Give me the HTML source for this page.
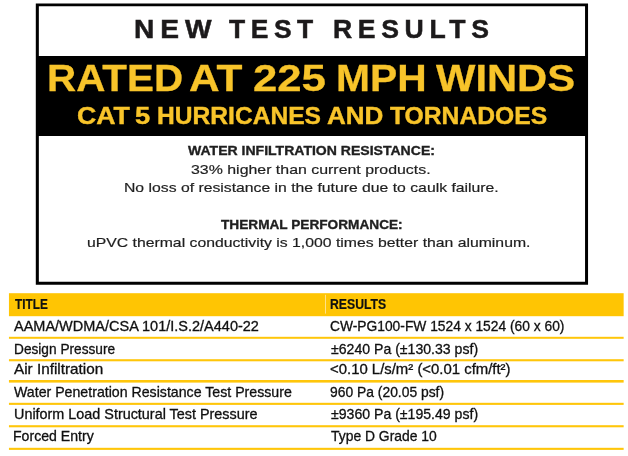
<!DOCTYPE html>
<html lang="en"><head><meta charset="utf-8"><title>New Test Results</title>
<style>
html,body{margin:0;padding:0}
body{width:628px;height:456px;background:#fff;position:relative;overflow:hidden;font-family:"Liberation Sans",sans-serif}
.a{position:absolute}
.t{position:absolute;white-space:nowrap;transform-origin:0 0;margin:0}
.bg{left:0;top:0;display:block}
</style></head>
<body>
<svg class="a bg" width="628" height="456" viewBox="0 0 628 456"><path fill="#000" fill-rule="evenodd" d="M35.8 3.5H588.05V284.8H35.8Z M38.85 6.15H585.05V281.8H38.85Z"/><rect x="36" y="56" width="552" height="80" fill="#000"/><rect x="8.95" y="293.2" width="614.7" height="23.0" fill="#ffc503"/><rect x="325.1" y="294.8" width="0.9" height="18.8" fill="#ffe699"/><rect x="8.95" y="336.8" width="614.7" height="2.0" fill="#ffc60a"/><rect x="8.95" y="359.2" width="614.7" height="2.1" fill="#ffc60a"/><rect x="8.95" y="380.0" width="614.7" height="2.6" fill="#ffc60a"/><rect x="8.95" y="402.8" width="614.7" height="2.1" fill="#ffc60a"/><rect x="8.95" y="425.2" width="614.7" height="2.1" fill="#ffc60a"/><rect x="8.95" y="447.8" width="614.7" height="2.1" fill="#ffc60a"/></svg>
<header>
<div class="t" id="h1a" style="left:134.40px;top:16px;font-size:26px;line-height:26px;font-weight:700;color:#1c1a1b;letter-spacing:5.5px;-webkit-text-stroke:0.5px #1c1a1b;transform:scaleX(1.0816);">NEW</div>
<div class="t" id="h1b" style="left:229.20px;top:16px;font-size:26px;line-height:26px;font-weight:700;color:#1c1a1b;letter-spacing:5.5px;-webkit-text-stroke:0.5px #1c1a1b;transform:scaleX(1.0152);">TEST</div>
<div class="t" id="h1c" style="left:332.74px;top:16px;font-size:26px;line-height:26px;font-weight:700;color:#1c1a1b;letter-spacing:5.5px;-webkit-text-stroke:0.5px #1c1a1b;transform:scaleX(1.0229);">RESULTS</div>
</header>
<section>
<div class="t" id="h2a" style="left:46.97px;top:60px;font-size:37.5px;line-height:37.5px;font-weight:700;color:#f8c42a;-webkit-text-stroke:0.3px #f8c42a;transform:scaleX(1.0767);">RATED</div>
<div class="t" id="h2b" style="left:189.41px;top:60px;font-size:37.5px;line-height:37.5px;font-weight:700;color:#f8c42a;-webkit-text-stroke:0.3px #f8c42a;transform:scaleX(1.1304);">AT</div>
<div class="t" id="h2c" style="left:253.38px;top:60px;font-size:37.5px;line-height:37.5px;font-weight:700;color:#f8c42a;-webkit-text-stroke:0.3px #f8c42a;transform:scaleX(1.1655);">225</div>
<div class="t" id="h2d" style="left:336.10px;top:60px;font-size:37.5px;line-height:37.5px;font-weight:700;color:#f8c42a;-webkit-text-stroke:0.3px #f8c42a;transform:scaleX(1.0874);">MPH</div>
<div class="t" id="h2e" style="left:436.14px;top:60px;font-size:37.5px;line-height:37.5px;font-weight:700;color:#f8c42a;-webkit-text-stroke:0.3px #f8c42a;transform:scaleX(1.1128);">WINDS</div>
</section>
<section>
<div class="t" id="h3a" style="left:76.99px;top:105px;font-size:23.2px;line-height:23.2px;font-weight:700;color:#f8c42a;-webkit-text-stroke:0.4px #f8c42a;transform:scaleX(1.1517);">CAT</div>
<div class="t" id="h3b" style="left:135.32px;top:105px;font-size:23.2px;line-height:23.2px;font-weight:700;color:#f8c42a;-webkit-text-stroke:0.4px #f8c42a;transform:scaleX(1.1785);">5</div>
<div class="t" id="h3c" style="left:157.10px;top:105px;font-size:23.2px;line-height:23.2px;font-weight:700;color:#f8c42a;-webkit-text-stroke:0.4px #f8c42a;transform:scaleX(1.0608);">HURRICANES</div>
<div class="t" id="h3d" style="left:326.80px;top:105px;font-size:23.2px;line-height:23.2px;font-weight:700;color:#f8c42a;-webkit-text-stroke:0.4px #f8c42a;transform:scaleX(1.1234);">AND</div>
<div class="t" id="h3e" style="left:390.06px;top:105px;font-size:23.2px;line-height:23.2px;font-weight:700;color:#f8c42a;-webkit-text-stroke:0.4px #f8c42a;transform:scaleX(1.0634);">TORNADOES</div>
</section>
<section>
<div class="t" id="b1" style="left:188.49px;top:144px;font-size:13.2px;line-height:13.2px;font-weight:700;color:#1f1f1f;-webkit-text-stroke:0.35px #1f1f1f;transform:scaleX(1.0644);">WATER INFILTRATION RESISTANCE:</div>
<div class="t" id="b2" style="left:190.69px;top:163px;font-size:13.5px;line-height:13.5px;font-weight:400;color:#1f1f1f;-webkit-text-stroke:0.2px #1f1f1f;transform:scaleX(1.1780);">33% higher than current products.</div>
<div class="t" id="b3" style="left:123.66px;top:181px;font-size:13.5px;line-height:13.5px;font-weight:400;color:#1f1f1f;-webkit-text-stroke:0.2px #1f1f1f;transform:scaleX(1.1665);">No loss of resistance in the future due to caulk failure.</div>
<div class="t" id="b4" style="left:220.91px;top:218px;font-size:13.2px;line-height:13.2px;font-weight:700;color:#1f1f1f;-webkit-text-stroke:0.35px #1f1f1f;transform:scaleX(1.0344);">THERMAL PERFORMANCE:</div>
<div class="t" id="b5" style="left:87.47px;top:236px;font-size:13.5px;line-height:13.5px;font-weight:400;color:#1f1f1f;-webkit-text-stroke:0.2px #1f1f1f;transform:scaleX(1.1679);">uPVC thermal conductivity is 1,000 times better than aluminum.</div>
</section>
<div role="table">
<div class="t" id="t0a" style="left:14.53px;top:297px;font-size:14px;line-height:14px;font-weight:700;color:#101010;-webkit-text-stroke:0.2px #101010;transform:scaleX(0.8422);">TITLE</div>
<div class="t" id="t0b" style="left:330.30px;top:297px;font-size:14px;line-height:14px;font-weight:700;color:#101010;-webkit-text-stroke:0.2px #101010;transform:scaleX(0.8729);">RESULTS</div>
<div class="t" id="t1a" style="left:13.67px;top:319px;font-size:14.2px;line-height:14.2px;font-weight:400;color:#101010;-webkit-text-stroke:0.3px #101010;transform:scaleX(1.0216);">AAMA/WDMA/CSA 101/I.S.2/A440-22</div>
<div class="t" id="t1b" style="left:329.76px;top:319px;font-size:14.2px;line-height:14.2px;font-weight:400;color:#101010;-webkit-text-stroke:0.3px #101010;transform:scaleX(0.9725);">CW-PG100-FW 1524 x 1524 (60 x 60)</div>
<div class="t" id="t2a" style="left:13.67px;top:342px;font-size:14.2px;line-height:14.2px;font-weight:400;color:#101010;-webkit-text-stroke:0.3px #101010;transform:scaleX(0.9643);">Design Pressure</div>
<div class="t" id="t2b" style="left:330.70px;top:342px;font-size:14.2px;line-height:14.2px;font-weight:400;color:#101010;-webkit-text-stroke:0.3px #101010;transform:scaleX(0.9933);">±6240 Pa (±130.33 psf)</div>
<div class="t" id="t3a" style="left:13.54px;top:362px;font-size:14.2px;line-height:14.2px;font-weight:400;color:#101010;-webkit-text-stroke:0.3px #101010;transform:scaleX(1.0784);">Air Infiltration</div>
<div class="t" id="t3b" style="left:329.73px;top:362px;font-size:14.2px;line-height:14.2px;font-weight:400;color:#101010;-webkit-text-stroke:0.3px #101010;transform:scaleX(1.0503);">&lt;0.10 L/s/m² (&lt;0.01 cfm/ft²)</div>
<div class="t" id="t4a" style="left:13.70px;top:385px;font-size:14.2px;line-height:14.2px;font-weight:400;color:#101010;-webkit-text-stroke:0.3px #101010;transform:scaleX(0.9980);">Water Penetration Resistance Test Pressure</div>
<div class="t" id="t4b" style="left:329.58px;top:385px;font-size:14.2px;line-height:14.2px;font-weight:400;color:#101010;-webkit-text-stroke:0.3px #101010;transform:scaleX(0.9774);">960 Pa (20.05 psf)</div>
<div class="t" id="t5a" style="left:13.50px;top:407px;font-size:14.2px;line-height:14.2px;font-weight:400;color:#101010;-webkit-text-stroke:0.3px #101010;transform:scaleX(1.0135);">Uniform Load Structural Test Pressure</div>
<div class="t" id="t5b" style="left:330.70px;top:407px;font-size:14.2px;line-height:14.2px;font-weight:400;color:#101010;-webkit-text-stroke:0.3px #101010;transform:scaleX(0.9933);">±9360 Pa (±195.49 psf)</div>
<div class="t" id="t6a" style="left:13.41px;top:429px;font-size:14.2px;line-height:14.2px;font-weight:400;color:#101010;-webkit-text-stroke:0.3px #101010;transform:scaleX(0.9937);">Forced Entry</div>
<div class="t" id="t6b" style="left:331.15px;top:429px;font-size:14.2px;line-height:14.2px;font-weight:400;color:#101010;-webkit-text-stroke:0.3px #101010;transform:scaleX(0.9789);">Type D Grade 10</div>
</div>
</body></html>
